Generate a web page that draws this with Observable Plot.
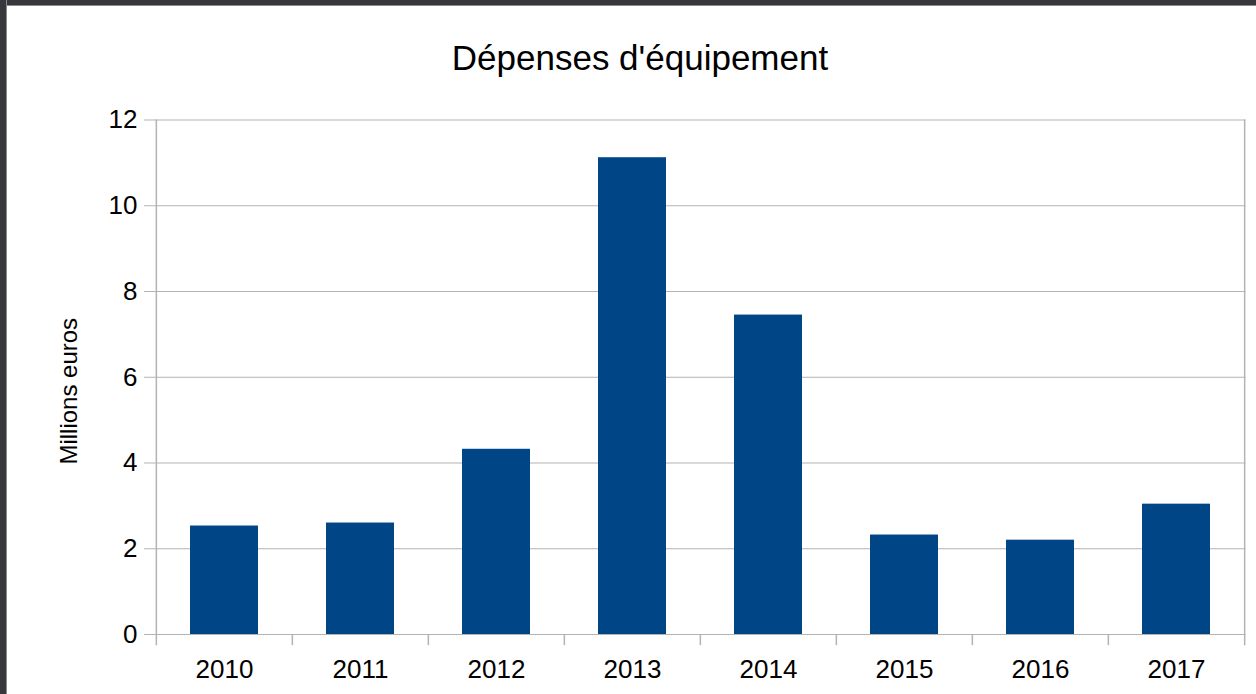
<!DOCTYPE html>
<html>
<head>
<meta charset="utf-8">
<script src="https://cdn.jsdelivr.net/npm/d3@7"></script>
<script src="https://cdn.jsdelivr.net/npm/@observablehq/plot@0.6"></script>
<style>
  html, body { margin: 0; padding: 0; background: #fff; }
  body { font-family: "Liberation Sans", Arial, sans-serif; }
  #wrap { position: relative; width: 1256px; height: 694px; overflow: hidden; background: #fff; }
  #title { position: absolute; left: 0; top: 40px; width: 1280px; text-align: center;
           font-size: 35px; line-height: 35px; color: #000; white-space: nowrap; }
  .bTop { position: absolute; left: 0; top: 0; width: 1256px; height: 5px; background: #38373c; border-bottom: 1px solid #8a8a8e; }
  .bLeft { position: absolute; left: 0; top: 0; width: 6px; height: 694px; background: #38373c; border-right: 1px solid #8a8a8e; }
  #chart { position: absolute; left: 0; top: 0; }
</style>
</head>
<body>
<div id="wrap">
  <div id="chart"></div>
  <div id="title">Dépenses d'équipement</div>
  <div class="bTop"></div>
  <div class="bLeft"></div>
</div>
<script>
const years = ["2010", "2011", "2012", "2013", "2014", "2015", "2016", "2017"];
const values = [2.53, 2.60, 4.32, 11.12, 7.45, 2.32, 2.20, 3.04];
const yTicks = [0, 2, 4, 6, 8, 10, 12];
const yLabel = "Millions euros";

const data = years.map((y, i) => ({year: y, value: values[i]}));

const W = 1256, H = 694;
const mL = 155, mR = 10.5, mT = 119.5, mB = 60;
const step = (W - mL - mR) / years.length;
const yMax = yTicks[yTicks.length - 1];
const grey = "#b3b3b3";

// category boundary ticks: left edge of every category, plus right edge of the last
const leftEdges = years.map((y, i) => ({year: y, top: i === 0 ? yMax : 0}));
const rightEdge = [{year: years[years.length - 1], top: yMax}];

const chart = Plot.plot({
  width: W,
  height: H,
  marginLeft: mL,
  marginRight: mR,
  marginTop: mT,
  marginBottom: mB,
  style: {fontFamily: "'Liberation Sans', Arial, sans-serif", fontSize: "26px", color: "#000", background: "transparent"},
  x: {domain: years, paddingInner: 0.5, paddingOuter: 0.25, label: null},
  y: {domain: [0, yMax], ticks: yTicks, label: null},
  marks: [
    Plot.gridY(yTicks, {stroke: grey, strokeOpacity: 1, strokeWidth: 1}),
    Plot.axisY(yTicks, {tickSize: 11, tickPadding: 7, stroke: grey, strokeOpacity: 1, fill: "#000", label: null, fontSize: 26}),
    Plot.axisX({tickSize: 0, tickPadding: 25, fill: "#000", label: null, fontSize: 26}),
    Plot.ruleX(leftEdges, {x: "year", y1: "top", y2: -0.26, dx: -step / 2, stroke: grey, strokeWidth: 1.5}),
    Plot.ruleX(rightEdge, {x: "year", y1: "top", y2: -0.26, dx: step / 2, stroke: grey, strokeWidth: 1.5}),
    Plot.barY(data, {x: "year", y: "value", fill: "#004586"}),
    Plot.text([yLabel], {frameAnchor: "left", rotate: -90, dx: -79, dy: 14, lineAnchor: "bottom", textAnchor: "middle", fontSize: 24, fill: "#000"})
  ]
});
document.getElementById("chart").appendChild(chart);
</script>
</body>
</html>
